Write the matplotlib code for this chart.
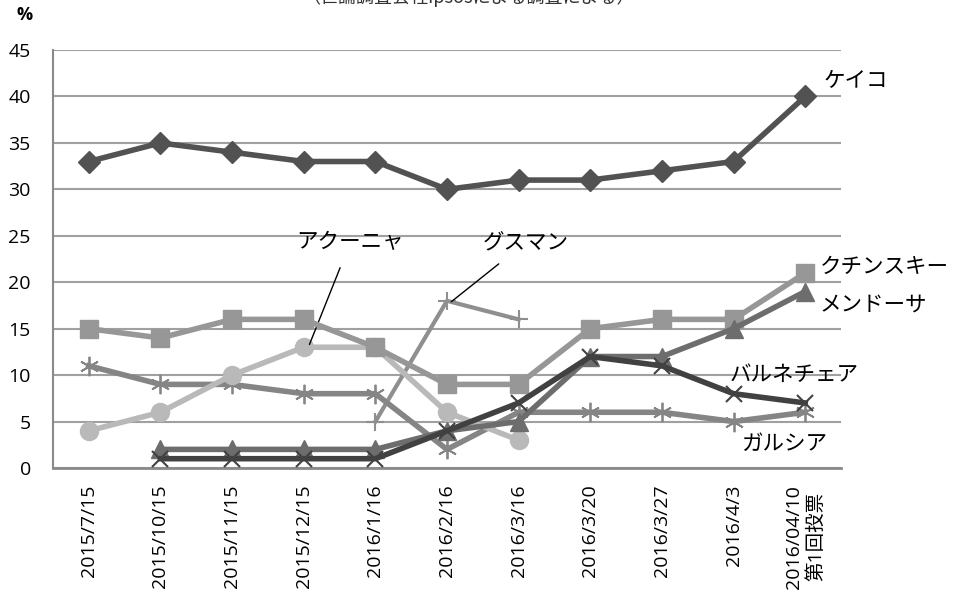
"""
ペルー大統領選 候補者支持率の推移
"""

import matplotlib
matplotlib.use('Agg')
import matplotlib.pyplot as plt
import numpy as np

plt.rcParams['font.family'] = ['Noto Sans CJK JP', 'DejaVu Sans']
tick_font = ['Open Sans', 'Noto Sans CJK JP']

#---------------------------------------------------------------------------------------------------
# Data
#---------------------------------------------------------------------------------------------------

dates = ['2015/7/15', '2015/10/15', '2015/11/15', '2015/12/15', '2016/1/16', '2016/2/16',
         '2016/3/16', '2016/3/20', '2016/3/27', '2016/4/3', '2016/04/10\n第1回投票']

nan = np.nan
keiko = [33, 35, 34, 33, 33, 30, 31, 31, 32, 33, 40]
kuczynski = [15, 14, 16, 16, 13, 9, 9, 15, 16, 16, 21]
mendoza = [nan, 2, 2, 2, 2, 4, 5, 12, 12, 15, 19]
barnechea = [nan, 1, 1, 1, 1, 4, 7, 12, 11, 8, 7]
garcia = [11, 9, 9, 8, 8, 2, 6, 6, 6, 5, 6]
acuna = [4, 6, 10, 13, 13, 6, 3, nan, nan, nan, nan]
guzman = [nan, nan, nan, nan, 5, 18, 16, nan, nan, nan, nan]

#---------------------------------------------------------------------------------------------------
# Plot
#---------------------------------------------------------------------------------------------------

x = np.arange(len(dates))

fig = plt.figure(figsize=(9.58, 5.96), dpi=100)
ax = fig.add_axes([0.0553, 0.2148, 0.8226, 0.7012])

lw = 4
ax.plot(x, guzman, c='#8f8f8f', lw=3, marker='+', ms=13, mew=1.5, zorder=3)
ax.plot(x, garcia, c='#858585', lw=lw, marker=(6, 2, 0), ms=14, mew=1.3, zorder=3)
ax.plot(x, acuna, c='#b9b9b9', lw=lw, marker='o', ms=13, zorder=3)
ax.plot(x, kuczynski, c='#979797', lw=lw, marker='s', ms=13, zorder=4)
ax.plot(x, mendoza, c='#6d6d6d', lw=lw, marker='^', ms=13, zorder=4)
ax.plot(x, barnechea, c='#414141', lw=lw, marker='x', ms=12, mew=1.5, zorder=5)
ax.plot(x, keiko, c='#525252', lw=lw, marker='D', ms=11, zorder=5)

ax.set_xlim(-0.5, len(dates) - 0.5)
ax.set_ylim(0, 45)
ax.set_yticks(range(0, 50, 5))
ax.yaxis.grid(True, color='#a0a0a0', lw=1.5)
ax.set_axisbelow(True)
for side in ['top', 'right']:
    ax.spines[side].set_visible(False)
ax.spines['left'].set_color('#8a8a8a')
ax.spines['left'].set_linewidth(1.5)
ax.spines['bottom'].set_color('#8a8a8a')
ax.spines['bottom'].set_linewidth(2)
ax.tick_params(length=0, labelsize=14)
ax.tick_params(axis='y', pad=16)
ax.tick_params(axis='x', pad=12)
ax.set_xticks(x)
ax.set_xticklabels(dates, rotation=90, linespacing=1.25)
for t in ax.get_xticklabels() + ax.get_yticklabels():
    t.set_family(tick_font)

# series names
lab = dict(fontsize=15.5, va='center', ha='left')
ax.text(10.25, 41.7, 'ケイコ', **lab)
ax.text(10.2, 21.7, 'クチンスキー', **lab)
ax.text(10.2, 17.6, 'メンドーサ', **lab)
ax.text(8.95, 10.0, 'バルネチェア', **lab)
ax.text(9.1, 2.6, 'ガルシア', **lab)
ax.annotate('アクーニャ', xy=(3.08, 13.3), xytext=(3.65, 24.3), fontsize=15.5, va='center',
            ha='center', arrowprops=dict(arrowstyle='-', color='black', lw=1, shrinkA=9, shrinkB=0))
ax.annotate('グスマン', xy=(5.06, 17.9), xytext=(6.1, 24.3), fontsize=15.5, va='center',
            ha='center', arrowprops=dict(arrowstyle='-', color='black', lw=1, shrinkA=9, shrinkB=0))

fig.text(25 / 958, 1 - 15 / 596, '%', fontsize=13, fontweight='bold', ha='center', va='center',
         family=tick_font)
fig.text(469 / 958, 1.005, '（世論調査会社Ipsosによる調査による）', fontsize=13,
         ha='center', va='center', color='#333333')

plt.savefig('out.png', dpi=100)
